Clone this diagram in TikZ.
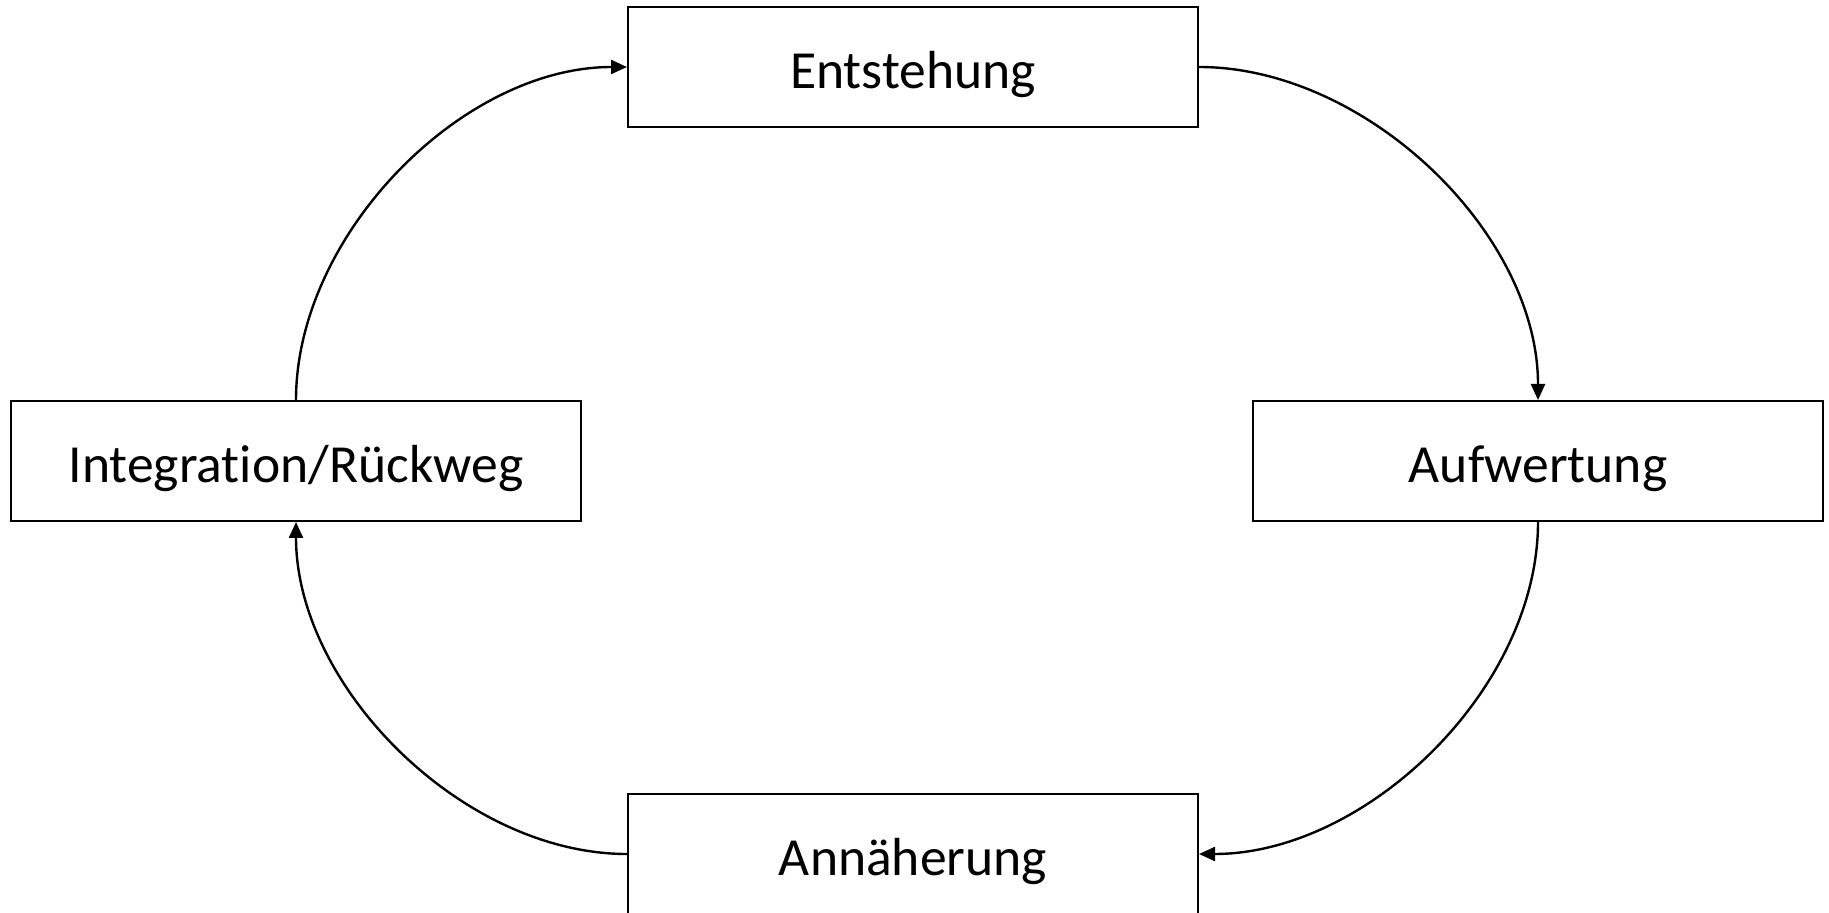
\documentclass[tikz,border=0pt]{standalone}
\usepackage{fontspec}
\setmainfont{Carlito}[RawFeature=-liga]
\usetikzlibrary{arrows.meta}
\begin{document}
\begin{tikzpicture}[x=0.5pt,y=-0.5pt,
  stage/.style={draw, line width=1pt, minimum width=285pt, minimum height=60pt,
    inner sep=0pt, text height=26.6pt, text depth=5pt,
    font=\fontsize{26.8}{32}\selectfont},
  flow/.style={line width=1.2pt, looseness=0.9, -{Triangle[length=8pt,width=7pt]}}]
  \useasboundingbox (0,0) rectangle (1829,913);
  \node[stage] (ent) at (913,67)  {Entstehung};
  \node[stage] (auf) at (1538,461) {Aufwertung};
  \node[stage] (ann) at (913,854) {Annäherung};
  \node[stage] (int) at (296,461) {Integration/Rückweg};
  \draw[flow] (ent.east) to[out=0,in=90] (auf.north);
  \draw[flow] (auf.south) to[out=-90,in=0] (ann.east);
  \draw[flow] (ann.west) to[out=180,in=-90] (int.south);
  \draw[flow] (int.north) to[out=90,in=180] (ent.west);
\end{tikzpicture}
\end{document}
